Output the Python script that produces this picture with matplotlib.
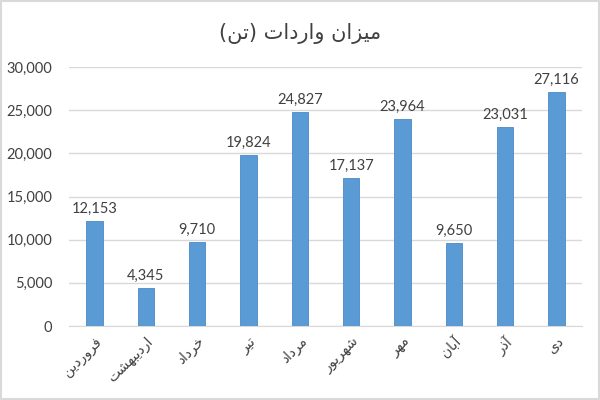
import numpy as np
import matplotlib
matplotlib.use("Agg")
import matplotlib.pyplot as plt
from matplotlib.ticker import FuncFormatter

# data
title = "میزان واردات (تن)"
months = ["فروردین", "اردیبهشت", "خرداد", "تیر", "مرداد",
          "شهریور", "مهر", "آبان", "آذر", "دی"]
values = [12153, 4345, 9710, 19824, 24827, 17137, 23964, 9650, 23031, 27116]

# matplotlib has no arabic shaping, so do a small one by hand
# letter: (isolated, final, initial, medial)
forms = {
    "ا": ("\uFE8D", "\uFE8E", None, None),
    "آ": ("\uFE81", "\uFE82", None, None),
    "ب": ("\uFE8F", "\uFE90", "\uFE91", "\uFE92"),
    "ت": ("\uFE95", "\uFE96", "\uFE97", "\uFE98"),
    "خ": ("\uFEA5", "\uFEA6", "\uFEA7", "\uFEA8"),
    "د": ("\uFEA9", "\uFEAA", None, None),
    "ذ": ("\uFEAB", "\uFEAC", None, None),
    "ر": ("\uFEAD", "\uFEAE", None, None),
    "ز": ("\uFEAF", "\uFEB0", None, None),
    "ش": ("\uFEB5", "\uFEB6", "\uFEB7", "\uFEB8"),
    "ف": ("\uFED1", "\uFED2", "\uFED3", "\uFED4"),
    "م": ("\uFEE1", "\uFEE2", "\uFEE3", "\uFEE4"),
    "ن": ("\uFEE5", "\uFEE6", "\uFEE7", "\uFEE8"),
    "ه": ("\uFEE9", "\uFEEA", "\uFEEB", "\uFEEC"),
    "و": ("\uFEED", "\uFEEE", None, None),
    "ی": ("\uFBFC", "\uFBFD", "\uFBFE", "\uFBFF"),
}


def shape(s):
    out = []
    for i, c in enumerate(s):
        if c not in forms:
            out.append(c)
            continue
        prev = s[i - 1] if i > 0 else ""
        nxt = s[i + 1] if i + 1 < len(s) else ""
        join_prev = prev in forms and forms[prev][2] is not None
        join_next = forms[c][2] is not None and nxt in forms
        f = forms[c]
        if join_prev and join_next:
            out.append(f[3])
        elif join_prev:
            out.append(f[1])
        elif join_next:
            out.append(f[2])
        else:
            out.append(f[0])
    vis = "".join(out)[::-1]
    return vis.translate(str.maketrans("()", ")("))


num_font = "Lato"
fa_font = ["DejaVu Sans"]
txt_col = "#404040"
bar_col = "#5B9BD5"

fig = plt.figure(figsize=(6, 4), dpi=100)
fig.patch.set_facecolor("white")
fig.patches.append(plt.Rectangle((0.002, 0.002), 0.996, 0.996, transform=fig.transFigure,
                                 fill=False, edgecolor="#d9d9d9", linewidth=1.5))

ax = fig.add_axes([0.115, 0.185, 0.855, 0.6475])
x = np.arange(len(months))
bars = ax.bar(x, values, width=0.32, color=bar_col, edgecolor="#4a8ac8", linewidth=0.6, zorder=3)

for xi, v in zip(x, values):
    ax.text(xi, v + 600, f"{v:,}", ha="center", va="bottom", fontsize=10.5,
            color=txt_col, family=num_font)

ax.set_xlim(-0.5, len(months) - 0.5)
ax.set_ylim(0, 30000)
ax.set_yticks(np.arange(0, 30001, 5000))
ax.yaxis.set_major_formatter(FuncFormatter(lambda v, p: f"{int(v):,}"))
ax.grid(axis="y", color="#d9d9d9", linewidth=1, zorder=0)
for sp in ["top", "right", "left"]:
    ax.spines[sp].set_visible(False)
ax.spines["bottom"].set_color("#d9d9d9")
ax.tick_params(axis="y", length=0, pad=12, labelsize=10.5, labelcolor=txt_col)
for lb in ax.get_yticklabels():
    lb.set_family(num_font)
ax.tick_params(axis="x", length=0, pad=6)
ax.set_xticks(x)
ax.set_xticklabels([shape(m) for m in months], rotation=45, ha="right", va="top",
                   rotation_mode="anchor", fontsize=10, color=txt_col, family=fa_font)

fig.text(0.5, 0.915, shape(title), ha="center", va="center", fontsize=15,
         color=txt_col, family=fa_font)

fig.savefig("out.png", dpi=100)
